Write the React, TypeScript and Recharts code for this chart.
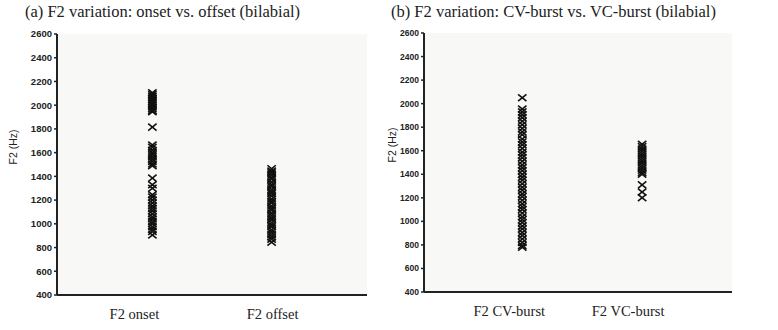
import React from "react";
import { ScatterChart, Scatter, XAxis, YAxis, CartesianGrid } from "recharts";

// F2 values in Hz
const onsetF2 = [2105, 2090, 2075, 2060, 2045, 2030, 2015, 2000, 1985, 1970, 1955, 1945, 1815, 1665, 1645, 1620, 1600, 1585, 1565, 1545, 1525, 1505, 1490, 1385, 1330, 1300, 1245, 1225, 1200, 1175, 1150, 1130, 1110, 1085, 1060, 1040, 1020, 1000, 975, 955, 935, 905];
const offsetF2 = [1465, 1445, 1430, 1410, 1390, 1375, 1350, 1330, 1315, 1290, 1270, 1255, 1235, 1210, 1190, 1175, 1150, 1130, 1115, 1090, 1070, 1050, 1035, 1010, 990, 975, 950, 930, 910, 890, 870, 845];
const cvBurstF2 = [2050, 1955, 1930, 1905, 1880, 1850, 1820, 1790, 1760, 1735, 1700, 1675, 1650, 1620, 1590, 1565, 1540, 1510, 1480, 1455, 1430, 1400, 1375, 1350, 1320, 1290, 1265, 1235, 1210, 1180, 1150, 1125, 1100, 1070, 1040, 1015, 990, 960, 935, 905, 880, 850, 820, 795, 780];
const vcBurstF2 = [1655, 1635, 1615, 1595, 1575, 1555, 1535, 1515, 1495, 1475, 1455, 1435, 1415, 1400, 1310, 1250, 1200];

const categoriesA = ["F2 onset", "F2 offset"];
const categoriesB = ["F2 CV-burst", "F2 VC-burst"];
const yTicks = [400, 600, 800, 1000, 1200, 1400, 1600, 1800, 2000, 2200, 2400, 2600];

const toPoints = (values: number[], cat: number) => values.map((v) => ({ x: cat, y: v }));

const XMark = (props: any) => {
  const { cx, cy } = props;
  if (cx == null || cy == null) return null;
  const w = 4.2, h = 3.4;
  return (
    <g stroke="#111" strokeWidth={1.6}>
      <line x1={cx - w} y1={cy - h} x2={cx + w} y2={cy + h} />
      <line x1={cx - w} y1={cy + h} x2={cx + w} y2={cy - h} />
    </g>
  );
};

const serif = "'Liberation Serif', 'Times New Roman', serif";
const sans = "'Liberation Sans', Arial, sans-serif";

function CatTick({ x, y, payload, labels, shifts }: any) {
  const i = payload.value - 1;
  return (
    <text x={x + (shifts[i] || 0)} y={y + 16} textAnchor="middle" fontFamily={serif} fontSize={14.5} fill="#222">
      {labels[i]}
    </text>
  );
}

interface PanelProps {
  a: number[];
  b: number[];
  labels: string[];
  shifts: number[];
  domain: [number, number];
  margin: { top: number; right: number; bottom: number; left: number };
  yWidth: number;
  labelDx: number;
  tickFont: number;
}

function Panel({ a, b, labels, shifts, domain, margin, yWidth, labelDx, tickFont }: PanelProps) {
  return (
    <ScatterChart width={389} height={330} margin={margin}>
      <CartesianGrid fill="#f8f8f6" horizontal={false} vertical={false} />
      <XAxis
        type="number"
        dataKey="x"
        domain={domain}
        ticks={[1, 2]}
        allowDataOverflow
        height={30}
        axisLine={{ stroke: "#222", strokeWidth: 2 }}
        tickLine={false}
        tick={<CatTick labels={labels} shifts={shifts} />}
      />
      <XAxis xAxisId="top" orientation="top" type="number" domain={domain} height={0} tick={false} tickLine={false} axisLine={{ stroke: "#444", strokeWidth: 1.2 }} />
      <YAxis
        type="number"
        dataKey="y"
        domain={[400, 2600]}
        ticks={yTicks}
        width={yWidth}
        axisLine={{ stroke: "#222", strokeWidth: 2 }}
        tickLine={{ stroke: "#222", strokeWidth: 1.5 }}
        tickSize={3}
        tick={{ fontSize: tickFont, fontFamily: sans, fill: "#222", fontWeight: 700 }}
        label={{ value: "F2 (Hz)", angle: -90, position: "insideLeft", dx: labelDx, fontSize: 10.5, fontFamily: sans, fill: "#222" }}
      />
      <YAxis yAxisId="right" orientation="right" type="number" domain={[400, 2600]} width={0} tick={false} tickLine={false} axisLine={{ stroke: "#444", strokeWidth: 1.2 }} />
      <Scatter data={toPoints(a, 1)} shape={<XMark />} isAnimationActive={false} />
      <Scatter data={toPoints(b, 2)} shape={<XMark />} isAnimationActive={false} />
    </ScatterChart>
  );
}

export default function App() {
  const titleStyle: React.CSSProperties = {
    position: "absolute",
    top: 2,
    fontFamily: serif,
    fontSize: 16.5,
    color: "#222",
    whiteSpace: "nowrap",
  };
  return (
    <div style={{ position: "absolute", left: 0, top: 0, width: 778, height: 330, background: "#fff" }}>
      <div style={{ position: "absolute", left: 0, top: 0 }}>
        <Panel
          a={onsetF2}
          b={offsetF2}
          labels={categoriesA}
          shifts={[-18, 1]}
          domain={[0.2, 2.8]}
          margin={{ top: 34, right: 22, bottom: 5, left: 6 }}
          yWidth={51}
          labelDx={2}
          tickFont={9.5}
        />
      </div>
      <div style={{ position: "absolute", left: 384, top: 0 }}>
        <Panel
          a={cvBurstF2}
          b={vcBurstF2}
          labels={categoriesB}
          shifts={[-13, -14]}
          domain={[0.18, 2.75]}
          margin={{ top: 33, right: 41, bottom: 8, left: 0 }}
          yWidth={40}
          labelDx={3}
          tickFont={8.5}
        />
      </div>
      <div style={{ ...titleStyle, left: 25 }}>(a) F2 variation: onset vs. offset (bilabial)</div>
      <div style={{ ...titleStyle, left: 391 }}>(b) F2 variation: CV-burst vs. VC-burst (bilabial)</div>
    </div>
  );
}
